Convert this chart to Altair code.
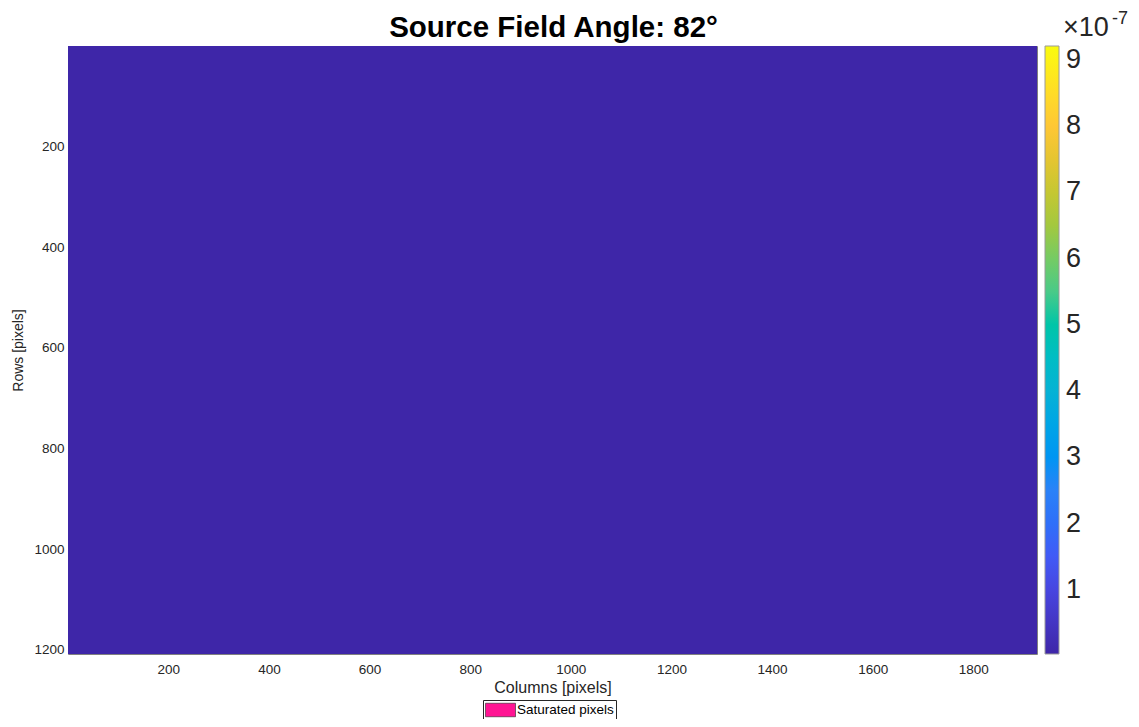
import altair as alt
import pandas as pd

# Image data (uniform dark field: all pixels near the colour-scale minimum)
col_start = [0.5]
col_end = [1926.5]
row_start = [0.5]
row_end = [1208.5]
values = [0.03e-7]

x_ticks = [200, 400, 600, 800, 1000, 1200, 1400, 1600, 1800]
y_ticks = [200, 400, 600, 800, 1000, 1200]
cbar_ticks = [1e-7, 2e-7, 3e-7, 4e-7, 5e-7, 6e-7, 7e-7, 8e-7, 9e-7]
cbar_domain = [0.03e-7, 9.21e-7]
parula = ["#3E26A8", "#4852F4", "#2D87F7", "#12B1D6", "#37C897", "#ABC739", "#FEC338", "#F9FB0E"]

sat_label = ["Saturated pixels"]
title_text = ["Source Field Angle: 82\u00b0"]

FONT = "Liberation Sans"
TXT = "#262626"

img = pd.DataFrame({"c0": col_start, "c1": col_end, "r0": row_start, "r1": row_end, "v": values})
sat = pd.DataFrame({"label": sat_label, "c0": col_start, "c1": col_end, "r0": row_start, "r1": row_end})

W, H = 969, 608

base_x = alt.X("c0:Q", scale=alt.Scale(domain=[0.5, 1926.5], nice=False, zero=False),
               axis=alt.Axis(values=x_ticks, format="d", title="Columns [pixels]", grid=False, ticks=False,
                             domain=False, labelFontSize=13.5, labelColor=TXT, labelFont=FONT,
                             labelPadding=8, titleFontSize=16, titleFont=FONT, titleColor=TXT,
                             titleFontWeight="normal", titlePadding=4, labelFlush=False))
base_y = alt.Y("r0:Q", scale=alt.Scale(domain=[0.5, 1208.5], reverse=True, nice=False, zero=False),
               axis=alt.Axis(values=y_ticks, format="d", title="Rows [pixels]", grid=False, ticks=False,
                             domain=False, labelFontSize=13.5, labelColor=TXT, labelFont=FONT,
                             labelPadding=4, titleFontSize=14, titleFont=FONT, titleColor=TXT,
                             titleFontWeight="normal", titlePadding=8, labelFlush=False))

image = alt.Chart(img).mark_rect().encode(
    x=base_x, x2="c1:Q", y=base_y, y2="r1:Q",
    color=alt.Color("v:Q", scale=alt.Scale(domain=cbar_domain, range=parula, clamp=True),
                    legend=alt.Legend(orient="none", legendX=977, legendY=0, direction="vertical",
                                      gradientLength=H, gradientThickness=14, values=cbar_ticks,
                                      labelExpr="format(round(datum.value*1e7), 'd')",
                                      labelFontSize=27, labelColor=TXT, labelFont=FONT,
                                      labelOffset=7, title=None, gradientStrokeColor="#9a9a9a",
                                      gradientStrokeWidth=1, labelOverlap=False)),
)

saturated = alt.Chart(sat).mark_rect(opacity=0).encode(
    x="c0:Q", x2="c1:Q", y="r0:Q", y2="r1:Q",
    color=alt.Color("label:N", scale=alt.Scale(domain=sat_label, range=["#FF1493"]),
                    legend=alt.Legend(orient="none", legendX=415, legendY=654, title=None,
                                      symbolType="M-1,-0.9H3V0.9H-1Z", symbolSize=225,
                                      symbolOpacity=1, symbolStrokeColor="#262626",
                                      symbolStrokeWidth=0.6, labelOffset=16, labelFontSize=13.5,
                                      labelFont=FONT, labelColor="#000000",
                                      strokeColor="#262626", padding=2, fillColor="white")),
)

title = alt.Chart(pd.DataFrame({"t": title_text})).mark_text(
    font=FONT, fontSize=29.5, fontWeight="bold", color="#000000", align="center", baseline="alphabetic"
).encode(text="t:N", x=alt.value(W / 2 + 1), y=alt.value(-9))

exp_main = alt.Chart(pd.DataFrame({"t": ["\u00d710"]})).mark_text(
    font=FONT, fontSize=27, color=TXT, align="left", baseline="alphabetic"
).encode(text="t:N", x=alt.value(995), y=alt.value(-10))
exp_sup = alt.Chart(pd.DataFrame({"t": ["-7"]})).mark_text(
    font=FONT, fontSize=18, color=TXT, align="left", baseline="alphabetic"
).encode(text="t:N", x=alt.value(1044), y=alt.value(-22))

chart = alt.layer(image, saturated, title, exp_main, exp_sup).resolve_scale(color="independent").properties(
    width=W, height=H,
    autosize=alt.AutoSizeParams(type="none"),
    padding={"left": 60, "top": 38, "right": 94, "bottom": 65},
).configure_view(stroke="#808080", strokeWidth=1)

chart.save("out.html", embed_options={"renderer": "svg", "actions": False})
